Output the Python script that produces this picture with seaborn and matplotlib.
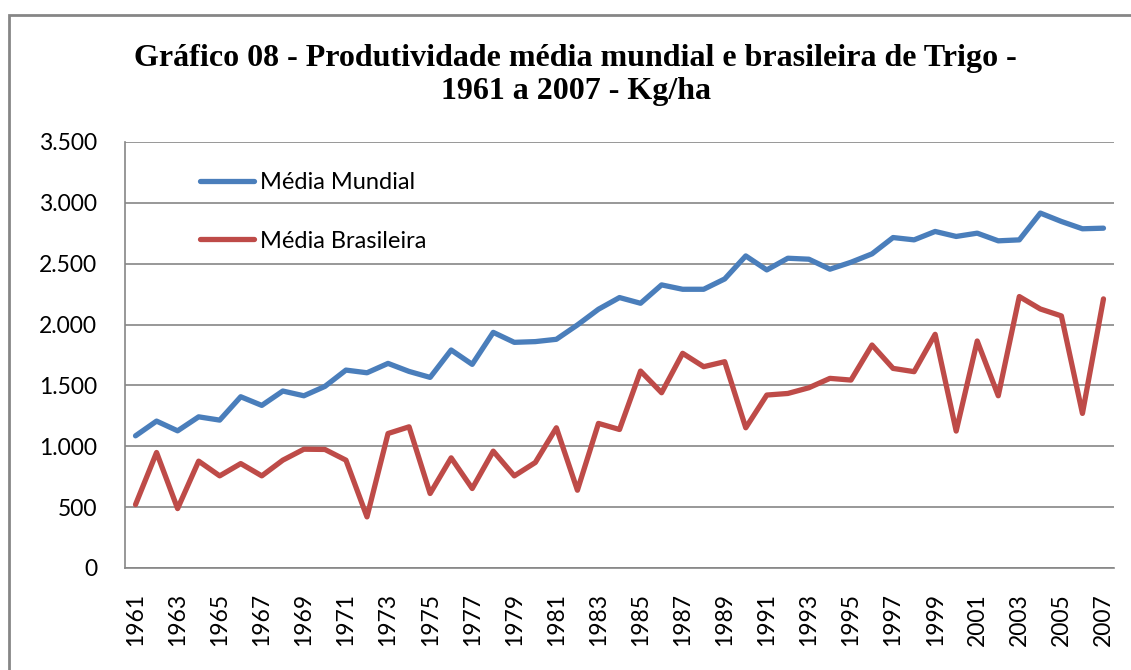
#!/usr/bin/env python3
"""
Produtividade media mundial e brasileira de trigo, 1961-2007 (Kg/ha)
"""

import pandas as pd
import matplotlib.pyplot as plt
import matplotlib.ticker as mticker
from matplotlib.patches import Rectangle
import seaborn as sns

anos = list(range(1961, 2008))

media_mundial = [
    1086, 1207, 1127, 1242, 1215, 1407, 1336, 1454, 1415, 1492,
    1626, 1604, 1681, 1615, 1566, 1791, 1673, 1936, 1854, 1860,
    1879, 1997, 2126, 2222, 2175, 2326, 2290, 2290, 2375, 2564,
    2449, 2545, 2537, 2455, 2512, 2581, 2715, 2696, 2765, 2724,
    2751, 2688, 2696, 2916, 2847, 2787, 2792,
]

media_brasileira = [
    521, 949, 488, 878, 757, 858, 757, 886, 976, 974,
    886, 420, 1105, 1160, 612, 905, 653, 960, 757, 867,
    1152, 639, 1188, 1138, 1618, 1440, 1764, 1654, 1695, 1152,
    1421, 1434, 1481, 1558, 1544, 1832, 1640, 1613, 1920, 1125,
    1865, 1415, 2230, 2128, 2071, 1270, 2211,
]

series_nomes = ['Média Mundial', 'Média Brasileira']
cores = ['#4A7EBB', '#BE4B48']


def main():
    df = pd.DataFrame({
        'ano': anos * 2,
        'valor': media_mundial + media_brasileira,
        'serie': [series_nomes[0]] * len(anos) + [series_nomes[1]] * len(anos),
    })

    sns.set_style('white')
    plt.rcParams['font.family'] = ['Lato', 'DejaVu Sans']
    plt.rcParams['text.color'] = 'black'
    plt.rcParams['xtick.labelcolor'] = 'black'
    plt.rcParams['ytick.labelcolor'] = 'black'

    W, H = 1131, 670
    fig = plt.figure(figsize=(W / 100, H / 100), dpi=100)
    ax = fig.add_axes([125 / W, (H - 568) / H, (1114 - 125) / W, (568 - 142) / H])

    # moldura do grafico (so topo e esquerda aparecem no recorte)
    fig.patches.append(Rectangle((9 / W, -0.1), 1.2, (H - 15) / H + 0.1,
                                 transform=fig.transFigure, fill=False,
                                 edgecolor='#868686', lw=2))

    sns.lineplot(data=df, x='ano', y='valor', hue='serie', palette=cores,
                 linewidth=3.8, ax=ax, legend=True)
    for ln in ax.lines:
        ln.set_solid_capstyle('round')
        ln.set_solid_joinstyle('round')

    ax.set_xlim(1960.5, 2007.5)
    ax.set_ylim(0, 3500)
    ax.set_yticks(range(0, 3501, 500))
    ax.yaxis.set_major_formatter(mticker.FuncFormatter(
        lambda v, p: f'{int(v):,}'.replace(',', '.')))
    ax.set_xticks(anos[::2])
    ax.set_xticks([a + 0.5 for a in range(1960, 2008)], minor=True)
    ax.tick_params(axis='x', which='major', length=0, pad=18, labelsize=16.5,
                   rotation=90)
    ax.tick_params(axis='x', which='minor', length=8, width=1.2,
                   color='#868686', direction='out')
    ax.tick_params(axis='y', length=8, width=1.2, color='#868686',
                   direction='out', pad=12, labelsize=16.5)
    ax.set_xlabel('')
    ax.set_ylabel('')

    ax.grid(True, axis='y', color='#868686', linewidth=1.2)
    ax.set_axisbelow(True)
    for side in ['top', 'right']:
        ax.spines[side].set_visible(False)
    for side in ['left', 'bottom']:
        ax.spines[side].set_color('#868686')
        ax.spines[side].set_linewidth(1.2)

    leg = ax.legend(loc='upper left', bbox_to_anchor=(0.076, 0.93),
                    frameon=False, fontsize=17, handlelength=2.3,
                    handletextpad=0.25, labelspacing=1.6,
                    borderpad=0, borderaxespad=0)
    for h in leg.legend_handles:
        h.set_linewidth(3.8)

    fig.text(0.509, 1 - 44 / H,
             'Gráfico 08 - Produtividade média mundial e brasileira de Trigo -\n'
             '1961 a 2007 - Kg/ha',
             ha='center', va='top', fontsize=23, fontweight='bold',
             family='Liberation Serif', linespacing=1.2, color='black')

    fig.savefig('out.png', dpi=100)
    print("Saved: out.png")


if __name__ == "__main__":
    main()
